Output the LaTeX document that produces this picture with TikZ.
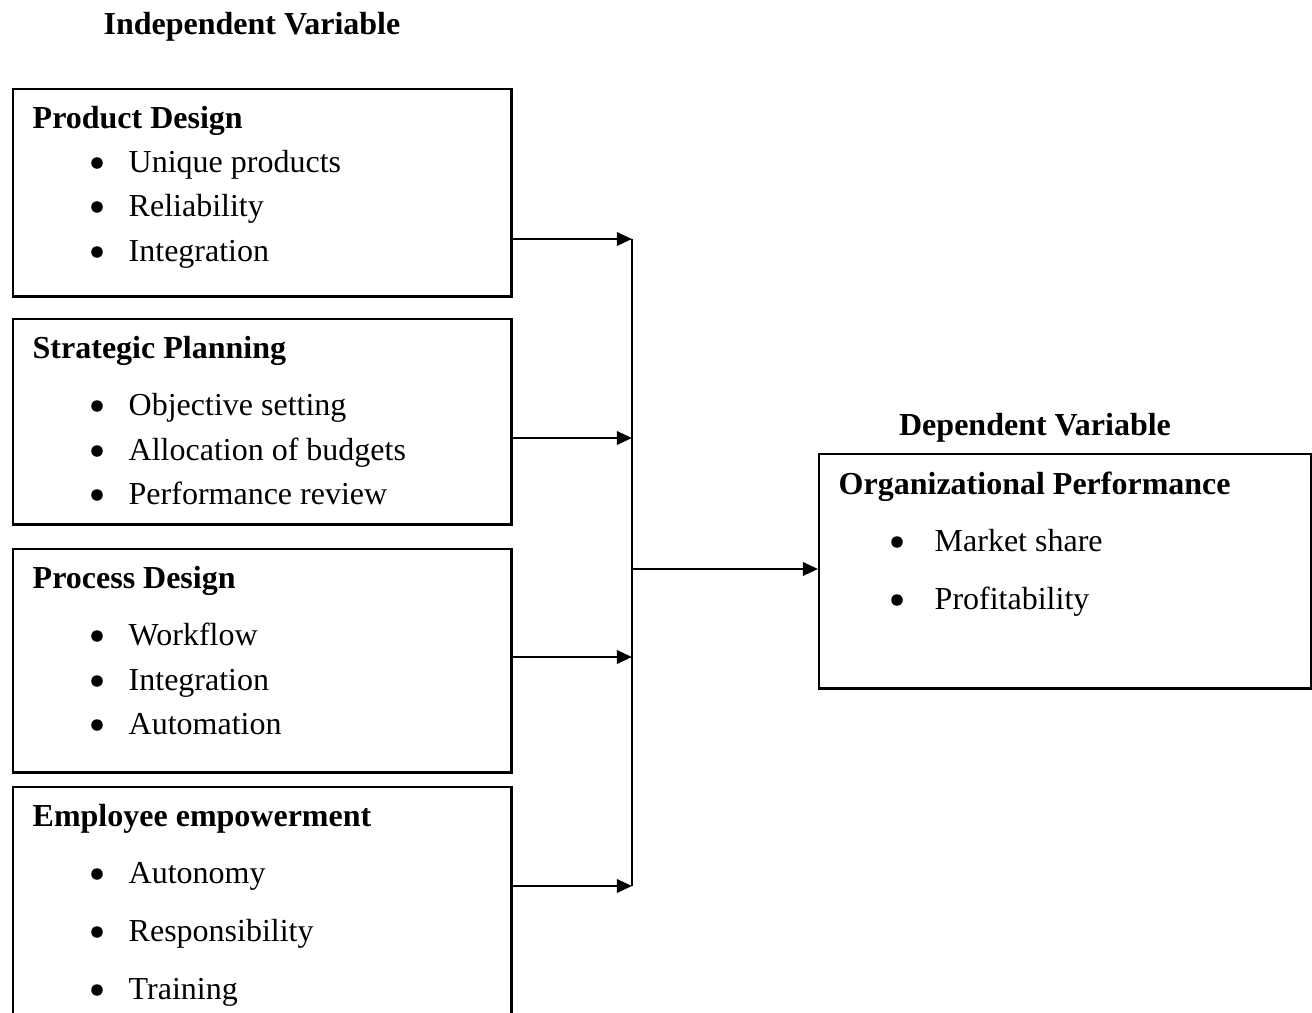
\documentclass[tikz,border=0pt]{standalone}
\usepackage{fontspec}
\setmainfont{Liberation Serif}
\usetikzlibrary{arrows.meta}
\tikzset{
  varbox/.style={draw, line width=0.7pt, anchor=north west, inner sep=0pt, minimum width=4.98cm},
  title/.style={font=\fontsize{9.1}{11}\selectfont\bfseries},
  head/.style={anchor=base west, inner sep=0pt, font=\fontsize{9.1}{11}\selectfont\bfseries},
  item/.style={anchor=base west, inner sep=0pt},
  dot/.style={circle, fill, inner sep=0pt, minimum size=0.115cm},
  link/.style={line width=0.7pt, -{Triangle[length=4.3pt,width=3.8pt]}},
}
\begin{document}
\begin{tikzpicture}[x=0.01cm, y=-0.01cm, font=\fontsize{9.1}{11}\selectfont]
  \useasboundingbox (0,0) rectangle (1312,1012);
  \clip (0,0) rectangle (1312,1012);

  % independent side
  \node (indep) [title] at (252,27) {Independent Variable};
  \node (pd) [varbox, minimum height=2.07cm] at (12,88) {};
  \node (sp) [varbox, minimum height=2.05cm] at (12,318) {};
  \node (prd) [varbox, minimum height=2.23cm] at (12,548) {};
  \node (ee) [varbox, minimum height=2.6cm] at (12,786) {};

  \node (pd-h) [head] at (32,128) {Product Design};
  \foreach \y/\t in {172/Unique products, 216/Reliability, 261/Integration} {
    \node (pd-d\y) [dot] at (97,\y-9) {};
    \node (pd-\y) [item] at (128,\y) {\t};
  }
  \node (sp-h) [head] at (32,358) {Strategic Planning};
  \foreach \y/\t in {415/Objective setting, 460/Allocation of budgets, 504/Performance review} {
    \node (sp-d\y) [dot] at (97,\y-9) {};
    \node (sp-\y) [item] at (128,\y) {\t};
  }
  \node (prd-h) [head] at (32,588) {Process Design};
  \foreach \y/\t in {645/Workflow, 690/Integration, 734/Automation} {
    \node (prd-d\y) [dot] at (97,\y-9) {};
    \node (prd-\y) [item] at (128,\y) {\t};
  }
  \node (ee-h) [head] at (32,826) {Employee empowerment};
  \foreach \y/\t in {883/Autonomy, 941/Responsibility, 999/Training} {
    \node (ee-d\y) [dot] at (97,\y-9) {};
    \node (ee-\y) [item] at (128,\y) {\t};
  }

  % dependent side
  \node (dep) [title] at (1035,428) {Dependent Variable};
  \node (op) [varbox, minimum width=4.92cm, minimum height=2.34cm] at (818,453) {};
  \node (op-h) [head] at (838,494) {Organizational Performance};
  \foreach \y/\t in {551/Market share, 609/Profitability} {
    \node (op-d\y) [dot] at (897,\y-9) {};
    \node (op-\y) [item] at (934,\y) {\t};
  }

  % arrows into the bus and on to the result
  \coordinate (b1) at (632,239);
  \coordinate (b2) at (632,438);
  \coordinate (b3) at (632,657);
  \coordinate (b4) at (632,886);
  \coordinate (bm) at (632,569);
  \draw [link] (b1 -| pd.east) -- (b1);
  \draw [link] (b2 -| sp.east) -- (b2);
  \draw [link] (b3 -| prd.east) -- (b3);
  \draw [link] (b4 -| ee.east) -- (b4);
  \draw [line width=0.7pt] (b1) -- (b4);
  \draw [link] (bm) -- (bm -| op.west);
\end{tikzpicture}
\end{document}
